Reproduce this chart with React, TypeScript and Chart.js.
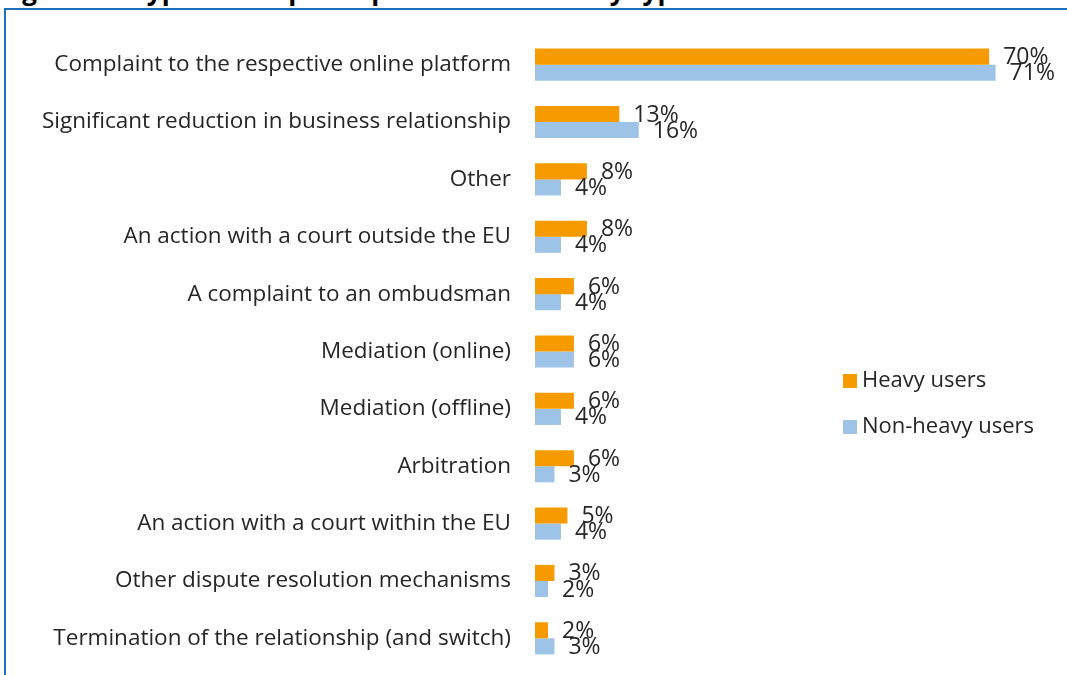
import React, { useEffect, useRef } from "react";
import { Chart, registerables } from "chart.js";

Chart.register(...registerables);

const categories = [
  "Complaint to the respective online platform",
  "Significant reduction in business relationship",
  "Other",
  "An action with a court outside the EU",
  "A complaint to an ombudsman",
  "Mediation (online)",
  "Mediation (offline)",
  "Arbitration",
  "An action with a court within the EU",
  "Other dispute resolution mechanisms",
  "Termination of the relationship (and switch)",
];
const heavyUsers = [70, 13, 8, 8, 6, 6, 6, 6, 5, 3, 2];
const nonHeavyUsers = [71, 16, 4, 4, 4, 6, 4, 3, 4, 2, 3];
const seriesNames = ["Heavy users", "Non-heavy users"];
const seriesColors = ["#F59B00", "#9DC3E6"];

const FONT = "'Open Sans', sans-serif";
const TEXT = "#262626";

const valueLabels = {
  id: "valueLabels",
  afterDatasetsDraw(chart: any) {
    const ctx = chart.ctx;
    ctx.save();
    ctx.font = `23px ${FONT}`;
    ctx.fillStyle = TEXT;
    ctx.textAlign = "left";
    ctx.textBaseline = "middle";
    chart.data.datasets.forEach((ds: any, di: number) => {
      const meta = chart.getDatasetMeta(di);
      meta.data.forEach((el: any, i: number) => {
        ctx.fillText(ds.data[i] + "%", el.x + 14, el.y + 1);
      });
    });
    ctx.restore();
  },
};

const sideLegend = {
  id: "sideLegend",
  afterDraw(chart: any) {
    const ctx = chart.ctx;
    ctx.save();
    ctx.font = `22px ${FONT}`;
    ctx.textAlign = "left";
    ctx.textBaseline = "middle";
    chart.data.datasets.forEach((ds: any, di: number) => {
      const y = 381 + di * 46;
      ctx.fillStyle = ds.backgroundColor;
      ctx.fillRect(843, y - 7, 14, 14);
      ctx.fillStyle = TEXT;
      ctx.fillText(ds.label, 862, y);
    });
    ctx.restore();
  },
};

export default function App() {
  const ref = useRef<HTMLCanvasElement>(null);
  useEffect(() => {
    if (!ref.current) return;
    const chart = new Chart(ref.current, {
      type: "bar",
      data: {
        labels: categories,
        datasets: [
          { label: seriesNames[0], data: heavyUsers, backgroundColor: seriesColors[0] },
          { label: seriesNames[1], data: nonHeavyUsers, backgroundColor: seriesColors[1] },
        ],
      },
      options: {
        indexAxis: "y",
        responsive: false,
        animation: false,
        categoryPercentage: 0.56,
        barPercentage: 1,
        layout: { padding: { top: 36, bottom: 8, left: 0, right: 13 } },
        plugins: { legend: { display: false }, tooltip: { enabled: false } },
        scales: {
          x: { display: false, min: 0, max: 80 },
          y: {
            grid: { display: false, drawTicks: false },
            border: { display: false },
            ticks: { color: TEXT, font: { family: FONT, size: 22.5 }, padding: 24 },
            afterFit(scale: any) {
              scale.width = 535;
              scale.paddingTop = 0;
              scale.paddingBottom = 0;
            },
          },
        },
      },
      plugins: [valueLabels, sideLegend],
    } as any);
    return () => chart.destroy();
  }, []);

  return (
    <div style={{ position: "fixed", left: 0, top: 0, width: 1067, height: 675, overflow: "hidden", background: "#fff" }}>
      <div
        style={{
          position: "absolute",
          left: 0,
          top: -23,
          fontFamily: FONT,
          fontWeight: 700,
          fontSize: 26,
          lineHeight: "26px",
          whiteSpace: "nowrap",
          color: "#000",
        }}
      >
        Figure 22: Type of complaint procedures used by type of user
      </div>
      <div
        style={{
          position: "absolute",
          left: 4,
          top: 8,
          width: 1100,
          height: 700,
          borderTop: "2px solid #1F6FBF",
          borderLeft: "2px solid #1F6FBF",
        }}
      />
      <canvas ref={ref} width={1067} height={675} style={{ position: "absolute", left: 0, top: 0 }} />
    </div>
  );
}
